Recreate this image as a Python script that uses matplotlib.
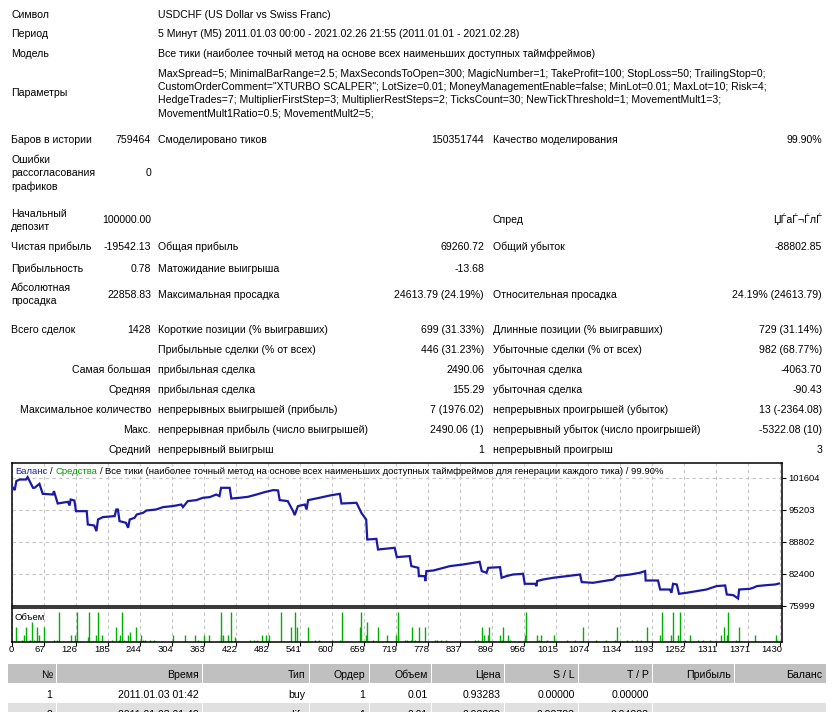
import numpy as np
import matplotlib
matplotlib.use("Agg")
import matplotlib.pyplot as plt
from matplotlib.patches import Rectangle
from matplotlib.transforms import offset_copy

# ---------------- data ----------------
info_rows = [("Символ", "USDCHF (US Dollar vs Swiss Franc)"),
             ("Период", "5 Минут (M5) 2011.01.03 00:00 - 2021.02.26 21:55 (2011.01.01 - 2021.02.28)"),
             ("Модель", "Все тики (наиболее точный метод на основе всех наименьших доступных таймфреймов)")]
params_label = "Параметры"
params_lines = ["MaxSpread=5; MinimalBarRange=2.5; MaxSecondsToOpen=300; MagicNumber=1; TakeProfit=100; StopLoss=50; TrailingStop=0;",
                "CustomOrderComment=\"XTURBO SCALPER\"; LotSize=0.01; MoneyManagementEnable=false; MinLot=0.01; MaxLot=10; Risk=4;",
                "HedgeTrades=7; MultiplierFirstStep=3; MultiplierRestSteps=2; TicksCount=30; NewTickThreshold=1; MovementMult1=3;",
                "MovementMult1Ratio=0.5; MovementMult2=5;"]

# (col1 label lines, col1 value, col2 label, col2 value, col3 label, col3 value)
stat_rows = [
    (["Баров в истории"], "759464", "Смоделировано тиков", "150351744", "Качество моделирования", "99.90%"),
    (["Ошибки", "рассогласования", "графиков"], "0", "", "", "", ""),
    (["Начальный", "депозит"], "100000.00", "", "", "Спред", "ЏЃаЃ¬ЃлЃ"),
    (["Чистая прибыль"], "-19542.13", "Общая прибыль", "69260.72", "Общий убыток", "-88802.85"),
    (["Прибыльность"], "0.78", "Матожидание выигрыша", "-13.68", "", ""),
    (["Абсолютная", "просадка"], "22858.83", "Максимальная просадка", "24613.79 (24.19%)", "Относительная просадка", "24.19% (24613.79)"),
    (["Всего сделок"], "1428", "Короткие позиции (% выигравших)", "699 (31.33%)", "Длинные позиции (% выигравших)", "729 (31.14%)"),
]
trade_rows = [
    ("", "Прибыльные сделки (% от всех)", "446 (31.23%)", "Убыточные сделки (% от всех)", "982 (68.77%)"),
    ("Самая большая", "прибыльная сделка", "2490.06", "убыточная сделка", "-4063.70"),
    ("Средняя", "прибыльная сделка", "155.29", "убыточная сделка", "-90.43"),
    ("Максимальное количество", "непрерывных выигрышей (прибыль)", "7 (1976.02)", "непрерывных проигрышей (убыток)", "13 (-2364.08)"),
    ("Макс.", "непрерывная прибыль (число выигрышей)", "2490.06 (1)", "непрерывный убыток (число проигрышей)", "-5322.08 (10)"),
    ("Средний", "непрерывный выигрыш", "1", "непрерывный проигрыш", "3"),
]

trade_no = [0, 6, 9, 15, 27, 30, 37, 40, 43, 52,
            58, 77, 79, 86, 105, 108, 110, 117, 120, 140,
            142, 154, 158, 161, 170, 192, 195, 198, 201, 213,
            217, 220, 229, 233, 245, 251, 269, 282, 300, 316,
            319, 328, 344, 356, 369, 381, 387, 390, 406, 409,
            424, 440, 456, 471, 487, 496, 499, 514, 524, 527,
            533, 546, 549, 552, 573, 592, 611, 614, 642, 651,
            660, 662, 679, 682, 713, 717, 741, 744, 757, 758,
            769, 770, 772, 785, 797, 816, 840, 871, 875, 884,
            887, 909, 912, 921, 933, 952, 955, 974, 977, 978,
            989, 1008, 1033, 1058, 1061, 1082, 1101, 1120, 1126, 1151,
            1169, 1179, 1180, 1203, 1207, 1225, 1228, 1231, 1238, 1242,
            1256, 1275, 1293, 1312, 1328, 1331, 1343, 1352, 1354, 1374,
            1380, 1387, 1405, 1421, 1428]
balance = [100000, 99140, 100940, 101260, 101260, 101740, 100260, 99600, 99600, 100400,
           98400, 98260, 98940, 96460, 96800, 96060, 97260, 97060, 94930, 94930,
           92260, 92060, 90930, 93260, 93740, 93940, 95260, 95260, 92940, 92600,
           91600, 93260, 93600, 94260, 94600, 95060, 95260, 95740, 95940, 96260,
           95740, 96940, 97140, 97600, 97740, 98260, 97940, 99600, 99600, 97460,
           97600, 97800, 98260, 98740, 99140, 99080, 97140, 96940, 94930, 94140,
           95940, 96260, 95260, 97140, 97600, 98060, 98400, 96460, 96600, 94600,
           93260, 89260, 89390, 87260, 87600, 85740, 85940, 83940, 83600, 81940,
           81940, 80940, 82940, 83060, 83400, 83940, 84260, 84800, 82940, 82600,
           83600, 83730, 81600, 81940, 82260, 82400, 80400, 80400, 79940, 80940,
           81260, 81600, 81940, 82260, 80740, 80600, 80940, 81260, 81940, 82260,
           82600, 82940, 81060, 81060, 79260, 79260, 78600, 80400, 80260, 78400,
           78600, 78930, 79260, 79940, 80070, 78260, 78130, 77460, 79260, 79400,
           79600, 79940, 80130, 80260, 80458]

vol_trade = [8, 20, 24, 27, 34, 38, 42, 47, 52, 61, 79, 84, 88, 110, 119, 122, 142, 144, 158, 161,
             169, 187, 195, 200, 202, 206, 209, 217, 220, 231, 241, 245, 249, 257, 266, 300, 322, 341, 347, 359,
             367, 389, 390, 394, 403, 408, 415, 444, 451, 456, 466, 474, 479, 502, 521, 528, 531, 552, 564, 572,
             597, 611, 615, 648, 651, 660, 662, 673, 682, 698, 716, 719, 732, 736, 744, 746, 750, 758, 770, 788,
             792, 800, 808, 862, 868, 876, 879, 887, 889, 909, 912, 914, 924, 927, 955, 957, 977, 982, 986, 996,
             1009, 1033, 1048, 1063, 1087, 1107, 1123, 1126, 1145, 1154, 1163, 1172, 1182, 1207, 1210, 1228, 1231, 1241, 1244, 1253,
             1262, 1278, 1287, 1300, 1321, 1325, 1331, 1334, 1349, 1354, 1383, 1423, 1424]
vol_lots = [0.09, 0.01, 0.04, 0.09, 0.01, 0.12, 0.01, 0.09, 0.04, 0.09, 0.01, 0.01, 0.18, 0.04, 0.04, 0.18, 0.03, 0.18, 0.04, 0.18,
            0.04, 0.01, 0.09, 0.01, 0.04, 0.18, 0.01, 0.04, 0.06, 0.09, 0.04, 0.01, 0.01, 0.01, 0.01, 0.04, 0.04, 0.04, 0.01, 0.04,
            0.04, 0.04, 0.18, 0.04, 0.04, 0.18, 0.03, 0.01, 0.01, 0.01, 0.04, 0.04, 0.04, 0.18, 0.09, 0.18, 0.09, 0.09, 0.01, 0.01,
            0.01, 0.01, 0.18, 0.09, 0.18, 0.04, 0.12, 0.01, 0.09, 0.04, 0.04, 0.18, 0.01, 0.01, 0.01, 0.09, 0.01, 0.09, 0.09, 0.01,
            0.01, 0.01, 0.01, 0.01, 0.01, 0.09, 0.04, 0.04, 0.09, 0.04, 0.01, 0.09, 0.04, 0.01, 0.04, 0.18, 0.04, 0.01, 0.04, 0.01,
            0.04, 0.01, 0.01, 0.09, 0.01, 0.01, 0.01, 0.09, 0.01, 0.01, 0.01, 0.01, 0.09, 0.04, 0.18, 0.04, 0.18, 0.04, 0.18, 0.01,
            0.04, 0.01, 0.01, 0.01, 0.04, 0.09, 0.04, 0.18, 0.01, 0.09, 0.04, 0.04, 0.01]

x_tick_labels = ['0', '67', '126', '185', '244', '304', '363', '422', '482', '541', '600', '659', '719',
                 '778', '837', '896', '956', '1015', '1074', '1134', '1193', '1252', '1311', '1371', '1430']
x_last = 1430
y_ticks = [75999, 82400, 88802, 95203, 101604]

title_parts = [("Баланс", "#2020b0"), ("/", "#000000"), ("Средства", "#00a000"), ("/", "#000000"),
               ("Все тики (наиболее точный метод на основе всех наименьших доступных таймфреймов для генерации каждого тика) / 99.90%", "#000000")]
vol_label = "Объем"

table_cols = ["№", "Время", "Тип", "Ордер", "Объем", "Цена", "S / L", "T / P", "Прибыль", "Баланс"]
table_row1 = ["1", "2011.01.03 01:42", "buy", "1", "0.01", "0.93283", "0.00000", "0.00000", "", ""]
table_row2 = ["2", "2011.01.03 01:42", "modify", "1", "0.01", "0.93283", "0.92783", "0.94283", "", ""]

# ---------------- layout ----------------
W, H = 832, 712
FAM = ['Liberation Sans', 'DejaVu Sans']
plt.rcParams['font.family'] = FAM
FS = 7.6
CFS = 6.8

fig = plt.figure(figsize=(W / 100, H / 100), dpi=100)
fig.patch.set_facecolor('white')


def T(x, yc, s, ha='left', fs=FS, color='black'):
    return fig.text(x / W, 1 - (yc + 4) / H, s, ha=ha, va='baseline', fontsize=fs, color=color)


C1L, C1V, C2L, C2V, C3L, C3V = 11, 151, 158, 484, 493, 822

for (lab, val), y in zip(info_rows, [14, 33, 53]):
    T(C1L, y, lab)
    T(C2L, y, val)
T(C1L, 92.5, params_label)
for s, y in zip(params_lines, [73, 86, 99, 112]):
    T(C2L, y, s)

stat_y = [139, 172.5, 219.5, 246.5, 267.5, 293.5, 329]
for row, y in zip(stat_rows, stat_y):
    lines = row[0]
    n = len(lines)
    for i, ln in enumerate(lines):
        T(C1L, y + (i - (n - 1) / 2) * 13.2, ln)
    T(C1V, y, row[1], ha='right')
    T(C2L, y, row[2])
    T(C2V, y, row[3], ha='right')
    T(C3L, y, row[4])
    T(C3V, y, row[5], ha='right')

for row, y in zip(trade_rows, [349, 369, 389, 409, 429, 449]):
    T(C1V, y, row[0], ha='right')
    T(C2L, y, row[1])
    T(C2V, y, row[2], ha='right')
    T(C3L, y, row[3])
    T(C3V, y, row[4], ha='right')

# ---------------- charts ----------------
L, R = 11.5, 781.5
x_max = x_last * (R - L) / (780 - L)
y_step_px = 32.0
y_top = y_ticks[0] + (y_ticks[1] - y_ticks[0]) * (605.8 - 463.2) / y_step_px
xtick_pos = np.linspace(0, x_last, len(x_tick_labels))
grid_kw = dict(color='#c4c4c4', linestyle=(0, (3, 3)), linewidth=0.8)

ax1 = fig.add_axes([L / W, 1 - 605.8 / H, (R - L) / W, (605.8 - 463.2) / H])
ax1.plot(trade_no, balance, color='#1a1aa8', lw=1.6, solid_joinstyle='miter', zorder=3)
ax1.set_xlim(0, x_max)
ax1.set_ylim(y_ticks[0], y_top)
ax1.set_xticks(xtick_pos)
ax1.set_yticks(y_ticks)
ax1.set_yticklabels([str(v) for v in y_ticks])
ax1.yaxis.tick_right()
ax1.tick_params(axis='y', direction='out', length=3, width=0.8, pad=2, labelsize=CFS, colors='black')
ax1.tick_params(axis='x', length=0, labelbottom=False)
ax1.grid(True, **grid_kw)
for sp in ax1.spines.values():
    sp.set_color('black')
    sp.set_linewidth(1.1)

ax2 = fig.add_axes([L / W, 1 - 642 / H, (R - L) / W, (642 - 608) / H])
ax2.vlines(vol_trade, 0, vol_lots, color='#00b000', lw=1.0)
ax2.set_xlim(0, x_max)
ax2.set_ylim(0, max(vol_lots) * 100 / 88)
ax2.set_xticks(xtick_pos)
ax2.set_yticks([])
ax2.tick_params(axis='x', direction='out', length=3, width=0.8, labelbottom=False)
ax2.grid(True, axis='x', **grid_kw)
for sp in ax2.spines.values():
    sp.set_color('black')
    sp.set_linewidth(1.1)
lab_tr = offset_copy(ax2.get_xaxis_transform(), fig=fig, x=2, y=-3, units='dots')
for pos, lab in zip(xtick_pos, x_tick_labels):
    ax2.text(pos, 0, lab, transform=lab_tr, ha='right', va='top', fontsize=CFS, clip_on=False)

T(15, 616, vol_label, fs=CFS)

# multi-colour title
renderer = fig.canvas.get_renderer()
xcur = 15.0
space_px = CFS * 100 / 72 * 0.278
for i, (s, c) in enumerate(title_parts):
    t = T(xcur, 470.5, s, fs=CFS, color=c)
    bb = t.get_window_extent(renderer=renderer)
    xcur = bb.x1 + space_px

# ---------------- table ----------------
edges = [8, 57, 203, 310, 370, 432, 505, 579, 653, 735, 827]
for i in range(len(table_cols)):
    x0, x1 = edges[i], edges[i + 1] - 1
    fig.patches.append(Rectangle((x0 / W, 1 - 683 / H), (x1 - x0) / W, 19 / H,
                                 transform=fig.transFigure, facecolor='#c0c0c0', edgecolor='none'))
    T(edges[i + 1] - 4.5, 673.5, table_cols[i], ha='right')
    T(edges[i + 1] - 4.5, 694, table_row1[i], ha='right')
for i in range(8):
    x0, x1 = edges[i], edges[i + 1] - 1
    fig.patches.append(Rectangle((x0 / W, 1 - 722 / H), (x1 - x0) / W, 19 / H,
                                 transform=fig.transFigure, facecolor='#e0e0e0', edgecolor='none'))
    T(edges[i + 1] - 4.5, 713.5, table_row2[i], ha='right')
fig.patches.append(Rectangle((edges[8] / W, 1 - 722 / H), (edges[10] - 1 - edges[8]) / W, 19 / H,
                             transform=fig.transFigure, facecolor='#e0e0e0', edgecolor='none'))

fig.savefig('out.png', dpi=100, facecolor='white')
